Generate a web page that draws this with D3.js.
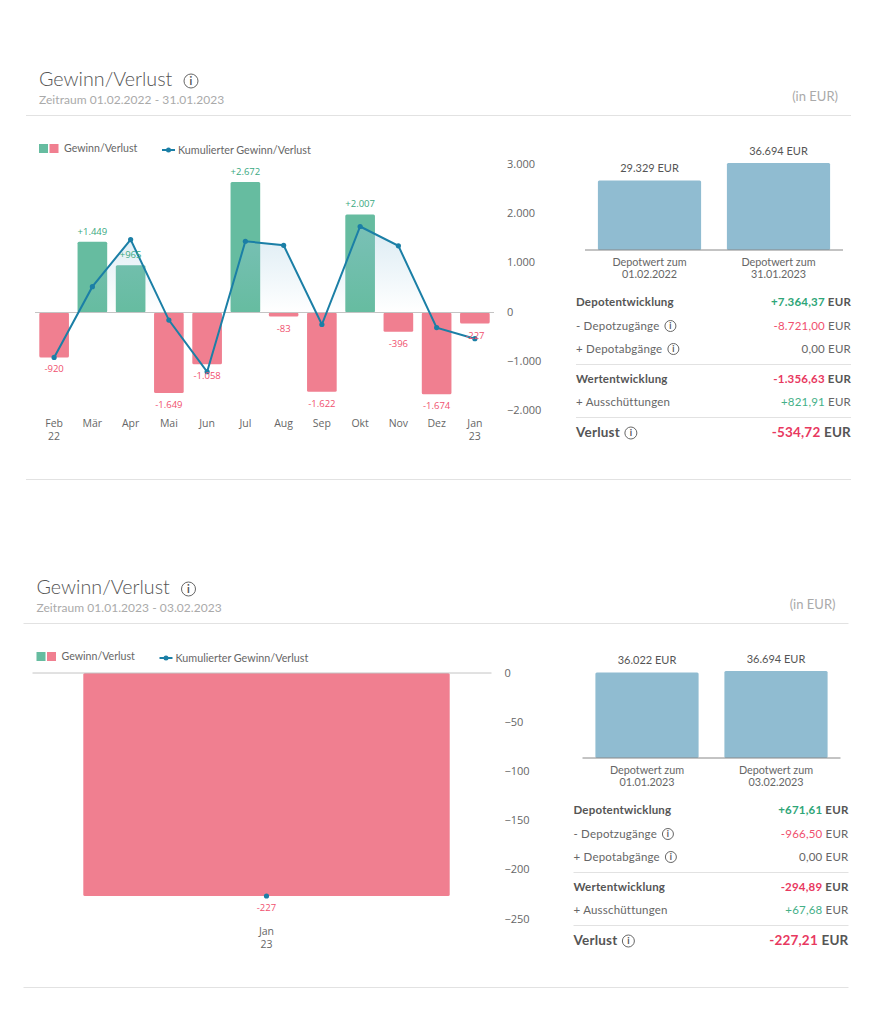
<!DOCTYPE html>
<html lang="de">

<head>
    <meta charset="UTF-8">
    <title>Gewinn/Verlust</title>
    <script src="https://d3js.org/d3.v7.min.js"></script>
    <style>
        body {
            margin: 0;
            padding: 0;
            background-color: #fff;
        }

        svg {
            display: block;
            font-family: Lato, Arial, sans-serif;
        }

        .axis-text {
            font-family: "Open Sans", Arial, sans-serif;
            fill: #666;
        }
    </style>
</head>

<body>
    <svg id="chart" width="886" height="1024"></svg>

    <script>
        // top panel
        var months1 = ["Feb 22", "Mär", "Apr", "Mai", "Jun", "Jul", "Aug", "Sep", "Okt", "Nov", "Dez", "Jan 23"];
        var gain1 = [-920, 1449, 965, -1649, -1058, 2672, -83, -1622, 2007, -396, -1674, -227];
        var cumulated1 = [-920, 529, 1494, -155, -1213, 1459, 1376, -246, 1761, 1365, -309, -536];
        var ticks1 = [3000, 2000, 1000, 0, -1000, -2000];
        var depotLabels1 = ["01.02.2022", "31.01.2023"];
        var depotValues1 = [29329, 36694];
        var period1 = "Zeitraum 01.02.2022 - 31.01.2023";
        var rows1 = [
            ["Depotentwicklung", "+7.364,37"],
            ["- Depotzugänge", "-8.721,00"],
            ["+ Depotabgänge", "0,00"],
            ["Wertentwicklung", "-1.356,63"],
            ["+ Ausschüttungen", "+821,91"],
            ["Verlust", "-534,72"]
        ];

        // bottom panel
        var months2 = ["Jan 23"];
        var gain2 = [-227];
        var cumulated2 = [-227];
        var ticks2 = [0, -50, -100, -150, -200, -250];
        var depotLabels2 = ["01.01.2023", "03.02.2023"];
        var depotValues2 = [36022, 36694];
        var period2 = "Zeitraum 01.01.2023 - 03.02.2023";
        var rows2 = [
            ["Depotentwicklung", "+671,61"],
            ["- Depotzugänge", "-966,50"],
            ["+ Depotabgänge", "0,00"],
            ["Wertentwicklung", "-294,89"],
            ["+ Ausschüttungen", "+67,68"],
            ["Verlust", "-227,21"]
        ];

        var GREEN = "#66bca0", RED = "#f07f90", LINE = "#1b7fa6", BLUE = "#90bcd1";
        var LABEL_GREEN = "#3aa981", LABEL_RED = "#f0506e";
        var RULE = "#e2e2e2", GREY = "#666";

        var de = d3.formatLocale({ decimal: ",", thousands: ".", grouping: [3], currency: ["", " EUR"], minus: "\u2212" });
        var tickFormat = de.format(",d");
        var barFormat = function (v) { return (v > 0 ? "+" : "-") + de.format(",d")(Math.abs(v)); };

        var svg = d3.select("#chart");
        var defs = svg.append("defs");

        function infoIcon(g, x, y, r) {
            g.append("circle").attr("cx", x).attr("cy", y).attr("r", r)
                .attr("fill", "none").attr("stroke", "#666").attr("stroke-width", 1);
            g.append("text").attr("x", x).attr("y", y + r * 0.58)
                .attr("text-anchor", "middle").attr("font-size", r * 1.55).attr("font-weight", 700)
                .attr("fill", "#555").text("i");
        }

        function drawHeader(g, period) {
            g.append("text").attr("x", 39).attr("y", 86)
                .attr("font-size", 19.7).attr("font-weight", 300).attr("fill", "#555").text("Gewinn/Verlust");
            infoIcon(g, 191, 81, 7);
            g.append("text").attr("x", 39).attr("y", 104)
                .attr("font-size", 12).attr("letter-spacing", 0.05).attr("fill", "#aaa").text(period);
            g.append("text").attr("x", 838).attr("y", 101).attr("text-anchor", "end")
                .attr("font-size", 13).attr("fill", "#aaa").text("(in EUR)");
            g.append("line").attr("x1", 26).attr("x2", 851).attr("y1", 115.5).attr("y2", 115.5).attr("stroke", RULE);
            g.append("line").attr("x1", 26).attr("x2", 851).attr("y1", 479.5).attr("y2", 479.5).attr("stroke", RULE);

            // legend
            g.append("rect").attr("x", 39).attr("y", 144).attr("width", 9).attr("height", 9).attr("fill", GREEN);
            g.append("rect").attr("x", 49.5).attr("y", 144).attr("width", 9).attr("height", 9).attr("fill", RED);
            g.append("text").attr("x", 64).attr("y", 152).attr("font-size", 10.6).attr("fill", GREY).text("Gewinn/Verlust");
            g.append("line").attr("x1", 162).attr("x2", 175).attr("y1", 150).attr("y2", 150)
                .attr("stroke", LINE).attr("stroke-width", 2);
            g.append("circle").attr("cx", 168.5).attr("cy", 150).attr("r", 2.5).attr("fill", LINE);
            g.append("text").attr("x", 178).attr("y", 154).attr("font-size", 10.75).attr("fill", GREY).text("Kumulierter Gewinn/Verlust");
        }

        function drawBars(g, id, cfg) {
            var x = d3.scaleBand().domain(cfg.months).range(cfg.xRange)
                .paddingInner(cfg.padding).paddingOuter(cfg.padding / 2);
            var y = d3.scaleLinear().domain(cfg.yDomain).range(cfg.yRange);
            var idx = d3.range(cfg.months.length);

            // axis at the right, tick labels only
            var axis = d3.axisRight(d3.scaleLinear().domain(cfg.yDomain).range(cfg.tickRange))
                .tickValues(cfg.ticks).tickSize(0).tickPadding(0).tickFormat(tickFormat);
            var ag = g.append("g").attr("transform", "translate(507,0)").call(axis);
            ag.select(".domain").remove();
            ag.selectAll("text").attr("class", "axis-text").attr("font-size", 11);

            g.selectAll(".bar").data(idx).enter().append("rect").attr("class", "bar")
                .attr("x", function (i) { return x(cfg.months[i]); })
                .attr("width", x.bandwidth())
                .attr("y", function (i) { return Math.min(y(0), y(cfg.gain[i])); })
                .attr("height", function (i) { return Math.abs(y(cfg.gain[i]) - y(0)); })
                .attr("rx", 1.5)
                .attr("fill", function (i) { return cfg.gain[i] >= 0 ? GREEN : RED; });

            var cx = function (i) { return x(cfg.months[i]) + x.bandwidth() / 2; };

            // soft fill under the line, positive side only
            if (cfg.months.length > 1) {
                var top = y(d3.max(cfg.cumulated));
                var gradient = defs.append("linearGradient").attr("id", "areaFill" + id)
                    .attr("gradientUnits", "userSpaceOnUse")
                    .attr("x1", 0).attr("x2", 0).attr("y1", top).attr("y2", y(0));
                gradient.append("stop").attr("offset", "0%").attr("stop-color", "#9cc8de").attr("stop-opacity", 0.36);
                gradient.append("stop").attr("offset", "100%").attr("stop-color", "#9cc8de").attr("stop-opacity", 0);

                defs.append("clipPath").attr("id", "clip" + id).append("rect")
                    .attr("x", cfg.xRange[0]).attr("width", cfg.xRange[1] - cfg.xRange[0])
                    .attr("y", top).attr("height", y(0) - top);
                var area = d3.area().x(cx).y0(y(0)).y1(function (i) { return y(cfg.cumulated[i]); });
                g.append("path").datum(idx).attr("d", area)
                    .attr("fill", "url(#areaFill" + id + ")")
                    .attr("clip-path", "url(#clip" + id + ")");
            }

            g.append("line").attr("x1", cfg.baseRange[0]).attr("x2", cfg.baseRange[1])
                .attr("y1", y(0)).attr("y2", y(0)).attr("stroke", "#c4c4c4").attr("stroke-width", 1);

            var line = d3.line().x(cx).y(function (i) { return y(cfg.cumulated[i]); });
            g.append("path").datum(idx).attr("d", line)
                .attr("fill", "none").attr("stroke", LINE).attr("stroke-width", 2);
            g.selectAll(".dot").data(idx).enter().append("circle").attr("class", "dot")
                .attr("cx", cx)
                .attr("cy", function (i) { return y(cfg.cumulated[i]); })
                .attr("r", 2.6).attr("fill", LINE);

            g.selectAll(".bar-label").data(idx).enter().append("text").attr("class", "bar-label")
                .attr("x", cx)
                .attr("y", function (i) { return cfg.gain[i] >= 0 ? y(cfg.gain[i]) - 7 : y(cfg.gain[i]) + 15; })
                .attr("text-anchor", "middle").attr("font-size", 9.5)
                .attr("font-family", "Open Sans, Arial, sans-serif")
                .attr("fill", function (i) { return cfg.gain[i] >= 0 ? LABEL_GREEN : LABEL_RED; })
                .text(function (i) { return barFormat(cfg.gain[i]); });

            g.selectAll(".month").data(idx).enter().append("text").attr("class", "month axis-text")
                .attr("text-anchor", "middle").attr("font-size", 10.5)
                .each(function (i) {
                    var parts = cfg.months[i].split(" ");
                    var t = d3.select(this);
                    parts.forEach(function (p, k) {
                        t.append("tspan").attr("x", cx(i)).attr("y", 427 + k * 12.5).text(p);
                    });
                });
        }

        function drawDepot(g, labels, values) {
            var x = d3.scaleBand().domain(labels).range([585, 843]).paddingInner(0.2).paddingOuter(0.1);
            var y = d3.scaleLinear().domain([0, 36694]).range([250, 163]);

            g.selectAll(".depot").data(labels).enter().append("rect").attr("class", "depot")
                .attr("x", function (d) { return x(d); })
                .attr("width", x.bandwidth())
                .attr("y", function (d, i) { return y(values[i]); })
                .attr("height", function (d, i) { return y(0) - y(values[i]); })
                .attr("rx", 1.5).attr("fill", BLUE);
            g.append("line").attr("x1", 585).attr("x2", 843).attr("y1", 250).attr("y2", 250)
                .attr("stroke", "#888").attr("stroke-width", 1);

            labels.forEach(function (d, i) {
                var mid = x(d) + x.bandwidth() / 2;
                g.append("text").attr("x", mid).attr("y", y(values[i]) - 8.5).attr("text-anchor", "middle")
                    .attr("font-size", 11).attr("fill", "#555")
                    .text(de.format(",d")(values[i]) + " EUR");
                g.append("text").attr("x", mid).attr("y", 266).attr("text-anchor", "middle")
                    .attr("font-size", 10.8).attr("fill", GREY).text("Depotwert zum");
                g.append("text").attr("x", mid).attr("y", 278).attr("text-anchor", "middle")
                    .attr("font-size", 10.8).attr("fill", GREY).text(d);
            });
        }

        function drawTable(g, rows) {
            var rowY = [306, 330, 353, 383, 406, 437];
            var bold = [true, false, false, true, false, true];
            var icon = [false, true, true, false, false, true];

            rows.forEach(function (r, i) {
                var size = i === 5 ? 13.5 : 11.5;
                var label = g.append("text").attr("x", 576).attr("y", rowY[i])
                    .attr("font-size", size).attr("font-weight", bold[i] ? 700 : 400)
                    .attr("letter-spacing", 0.2)
                    .attr("fill", bold[i] ? "#555" : GREY).text(r[0]);
                if (icon[i]) {
                    var w = label.node().getComputedTextLength();
                    infoIcon(g, 576 + w + 11, rowY[i] - 4, i === 5 ? 6 : 5.5);
                }

                var num = parseFloat(r[1].replace(/\./g, "").replace(",", "."));
                var colour = num > 0 ? (bold[i] ? "#2fa678" : "#45b088") : num < 0 ? (bold[i] ? "#e8395f" : "#f0506e") : GREY;
                var t = g.append("text").attr("x", 851).attr("y", rowY[i]).attr("text-anchor", "end")
                    .attr("font-size", size).attr("font-weight", bold[i] ? 700 : 400)
                    .attr("letter-spacing", 0.2);
                t.append("tspan").attr("fill", colour).text(r[1]);
                t.append("tspan").attr("fill", bold[i] ? "#555" : GREY).text(" EUR");
            });

            g.append("line").attr("x1", 576).attr("x2", 851).attr("y1", 364.5).attr("y2", 364.5).attr("stroke", RULE);
            g.append("line").attr("x1", 576).attr("x2", 851).attr("y1", 417.5).attr("y2", 417.5).attr("stroke", RULE);
        }

        function drawPanel(dx, dy, id, cfg) {
            var g = svg.append("g").attr("transform", "translate(" + dx + "," + dy + ")");
            drawHeader(g, cfg.period);
            drawBars(g, id, cfg);
            drawDepot(g, cfg.depotLabels, cfg.depotValues);
            drawTable(g, cfg.rows);
        }

        drawPanel(0, 0, 1, {
            period: period1, months: months1, gain: gain1, cumulated: cumulated1, ticks: ticks1,
            depotLabels: depotLabels1, depotValues: depotValues1, rows: rows1,
            xRange: [35, 494], baseRange: [35, 494], padding: 0.225,
            yDomain: [0, 2672], yRange: [312.5, 182], tickRange: [311.5, 180.2]
        });

        drawPanel(-2.5, 508, 2, {
            period: period2, months: months2, gain: gain2, cumulated: cumulated2, ticks: ticks2,
            depotLabels: depotLabels2, depotValues: depotValues2, rows: rows2,
            xRange: [40, 498], baseRange: [35, 494], padding: 0.2,
            yDomain: [0, -227], yRange: [165, 388], tickRange: [164.5, 387.9]
        });
    </script>
</body>

</html>
